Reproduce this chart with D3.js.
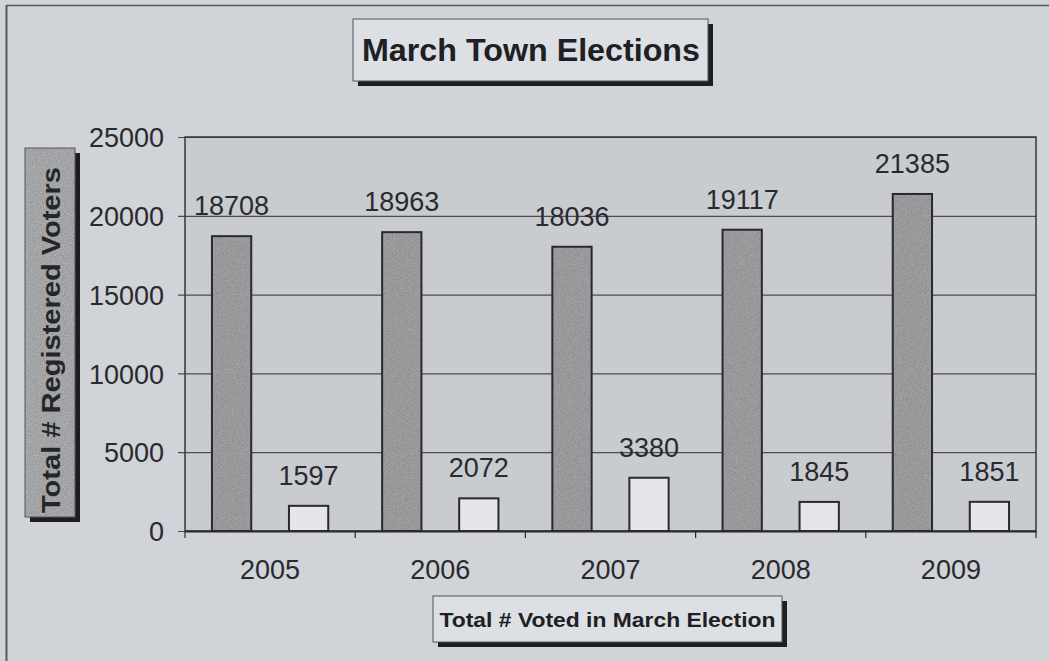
<!DOCTYPE html>
<html>
<head>
<meta charset="utf-8">
<script src="https://cdn.jsdelivr.net/npm/d3@7"></script>
<style>
  body { margin: 0; background: #d0d3d8; }
  svg { display: block; font-family: "Liberation Sans", Arial, sans-serif; }
</style>
</head>
<body>
<div class="canva"></div>
<script>
// data
const years = ["2005", "2006", "2007", "2008", "2009"];
const registered = [18708, 18963, 18036, 19117, 21385];
const voted = [1597, 2072, 3380, 1845, 1851];
const yTicks = [0, 5000, 10000, 15000, 20000, 25000];
const seriesKeys = ["registered", "voted"];

const width = 1049, height = 661;
const margin = {top: 137, right: 13, bottom: 130, left: 185};
const graphWidth = width - margin.left - margin.right;
const graphHeight = height - margin.top - margin.bottom;

const svg = d3.select(".canva").append("svg")
  .attr("width", width)
  .attr("height", height);

// speckle filters (scanned texture)
const defs = svg.append("defs");
function makeSpeck(id, freq, seed, base, a, b) {
  const f = defs.append("filter").attr("id", id)
    .attr("x", 0).attr("y", 0).attr("width", 1).attr("height", 1);
  f.append("feTurbulence").attr("type", "fractalNoise")
    .attr("baseFrequency", freq).attr("numOctaves", 1).attr("seed", seed).attr("result", "noise");
  f.append("feColorMatrix").attr("in", "noise").attr("type", "matrix")
    .attr("values", `0 0 0 0 ${base}  0 0 0 0 ${base}  0 0 0 0 ${base}  ${a} 0 0 0 ${b}`)
    .attr("result", "dots");
  f.append("feComposite").attr("in", "dots").attr("in2", "SourceGraphic").attr("operator", "atop");
}
makeSpeck("speck", 1.2, 3, 0.5, 1.0, -0.25);
makeSpeck("lspeck", 1.1, 8, 0.6, 1.2, -0.4);

// outer frame (only top and left show on the scan)
svg.append("line").attr("x1", 6).attr("x2", width).attr("y1", 5.5).attr("y2", 5.5)
  .attr("stroke", "#555a60").attr("stroke-width", 1.5);
svg.append("line").attr("x1", 6.5).attr("x2", 6.5).attr("y1", 5).attr("y2", height)
  .attr("stroke", "#555a60").attr("stroke-width", 2);

const g = svg.append("g").attr("transform", `translate(${margin.left},${margin.top})`);

// scales
const x0 = d3.scaleBand().domain(years).range([0, graphWidth]).padding(0);
const x1 = d3.scaleBand().domain(seriesKeys).range([0, x0.bandwidth()])
  .paddingInner(0.49).paddingOuter(0.35);
const y = d3.scaleLinear().domain([0, 25000]).range([graphHeight, 0]);

// plot area
g.append("rect").attr("width", graphWidth).attr("height", graphHeight)
  .attr("fill", "#c8cbcf");

// gridlines + y axis
const yAxis = g.append("g")
  .call(d3.axisLeft(y).tickValues(yTicks).tickSize(-graphWidth).tickPadding(21).tickFormat(d3.format("d")));
yAxis.select(".domain").remove();
yAxis.selectAll(".tick line").attr("x1", -7).attr("x2", graphWidth)
  .attr("stroke", "#4a4c50").attr("stroke-width", 1.2);
yAxis.selectAll(".tick text").attr("font-size", 27).attr("fill", "#2a2a2e").attr("dy", "0.36em");

// plot border
g.append("rect").attr("width", graphWidth).attr("height", graphHeight)
  .attr("fill", "none").attr("stroke", "#3a3440").attr("stroke-width", 1.5);

// x axis
const xAxis = g.append("g").attr("transform", `translate(0,${graphHeight})`)
  .call(d3.axisBottom(x0).tickSize(0).tickPadding(29));
xAxis.select(".domain").attr("stroke", "#2c2830").attr("stroke-width", 2);
xAxis.selectAll(".tick text").attr("font-size", 27).attr("fill", "#2a2a2e");
g.append("g").selectAll("line")
  .data(years.concat(["end"]))
  .enter().append("line")
  .attr("x1", (d, i) => i * x0.step()).attr("x2", (d, i) => i * x0.step())
  .attr("y1", graphHeight).attr("y2", graphHeight + 7)
  .attr("stroke", "#2c2830").attr("stroke-width", 1.2);

// bars
const rows = years.map((yr, i) => ({year: yr, registered: registered[i], voted: voted[i]}));
const groups = g.selectAll(".grp").data(rows).enter().append("g")
  .attr("class", "grp")
  .attr("transform", d => `translate(${x0(d.year)},0)`);

const cells = d => seriesKeys.map(k => ({key: k, value: d[k]}));

// fill (textured) then outline on top
groups.selectAll("rect.fill")
  .data(cells)
  .enter().append("rect")
  .attr("class", "fill")
  .attr("x", d => x1(d.key))
  .attr("width", x1.bandwidth())
  .attr("y", d => y(d.value))
  .attr("height", d => graphHeight - y(d.value))
  .attr("fill", d => d.key === "registered" ? "#8a8b8e" : "#e4e6e9")
  .attr("filter", d => d.key === "registered" ? "url(#speck)" : null);

groups.selectAll("rect.edge")
  .data(cells)
  .enter().append("rect")
  .attr("class", "edge")
  .attr("x", d => x1(d.key))
  .attr("width", x1.bandwidth())
  .attr("y", d => y(d.value))
  .attr("height", d => graphHeight - y(d.value))
  .attr("fill", "none")
  .attr("stroke", "#2e2630")
  .attr("stroke-width", 2);

groups.selectAll("text")
  .data(cells)
  .enter().append("text")
  .attr("x", d => x1(d.key) + x1.bandwidth() / 2)
  .attr("y", d => y(d.value) - 21)
  .attr("text-anchor", "middle")
  .attr("font-size", 27)
  .attr("fill", "#2a2a2e")
  .text(d => d.value);

// boxed label helper
function boxLabel(x, yy, w, h, fill, shadow, filter) {
  const b = svg.append("g");
  b.append("rect").attr("x", x + shadow).attr("y", yy + shadow).attr("width", w).attr("height", h)
    .attr("fill", "#1e1e22");
  b.append("rect").attr("x", x).attr("y", yy).attr("width", w).attr("height", h)
    .attr("fill", fill).attr("filter", filter || null);
  b.append("rect").attr("x", x).attr("y", yy).attr("width", w).attr("height", h)
    .attr("fill", "none").attr("stroke", "#55555a").attr("stroke-width", 1);
  return b;
}

// title
boxLabel(353, 19, 355, 62, "#dcdfe3", 5)
  .append("text").attr("x", 531).attr("y", 61).attr("text-anchor", "middle")
  .attr("font-size", 32).attr("font-weight", "bold").attr("fill", "#202024")
  .attr("textLength", 338).attr("lengthAdjust", "spacingAndGlyphs")
  .text("March Town Elections");

// y axis title
boxLabel(25, 148, 50, 369, "#97989b", 5, "url(#lspeck)")
  .append("text")
  .attr("transform", "translate(60,340) rotate(-90)")
  .attr("text-anchor", "middle")
  .attr("font-size", 26).attr("font-weight", "bold").attr("fill", "#26262a")
  .attr("textLength", 346).attr("lengthAdjust", "spacingAndGlyphs")
  .text("Total # Registered Voters");

// x axis title
boxLabel(433, 596, 349, 46, "#dcdfe3", 5)
  .append("text").attr("x", 607.5).attr("y", 627).attr("text-anchor", "middle")
  .attr("font-size", 20).attr("font-weight", "bold").attr("fill", "#202024")
  .attr("textLength", 336).attr("lengthAdjust", "spacingAndGlyphs")
  .text("Total # Voted in March Election");
</script>
</body>
</html>
